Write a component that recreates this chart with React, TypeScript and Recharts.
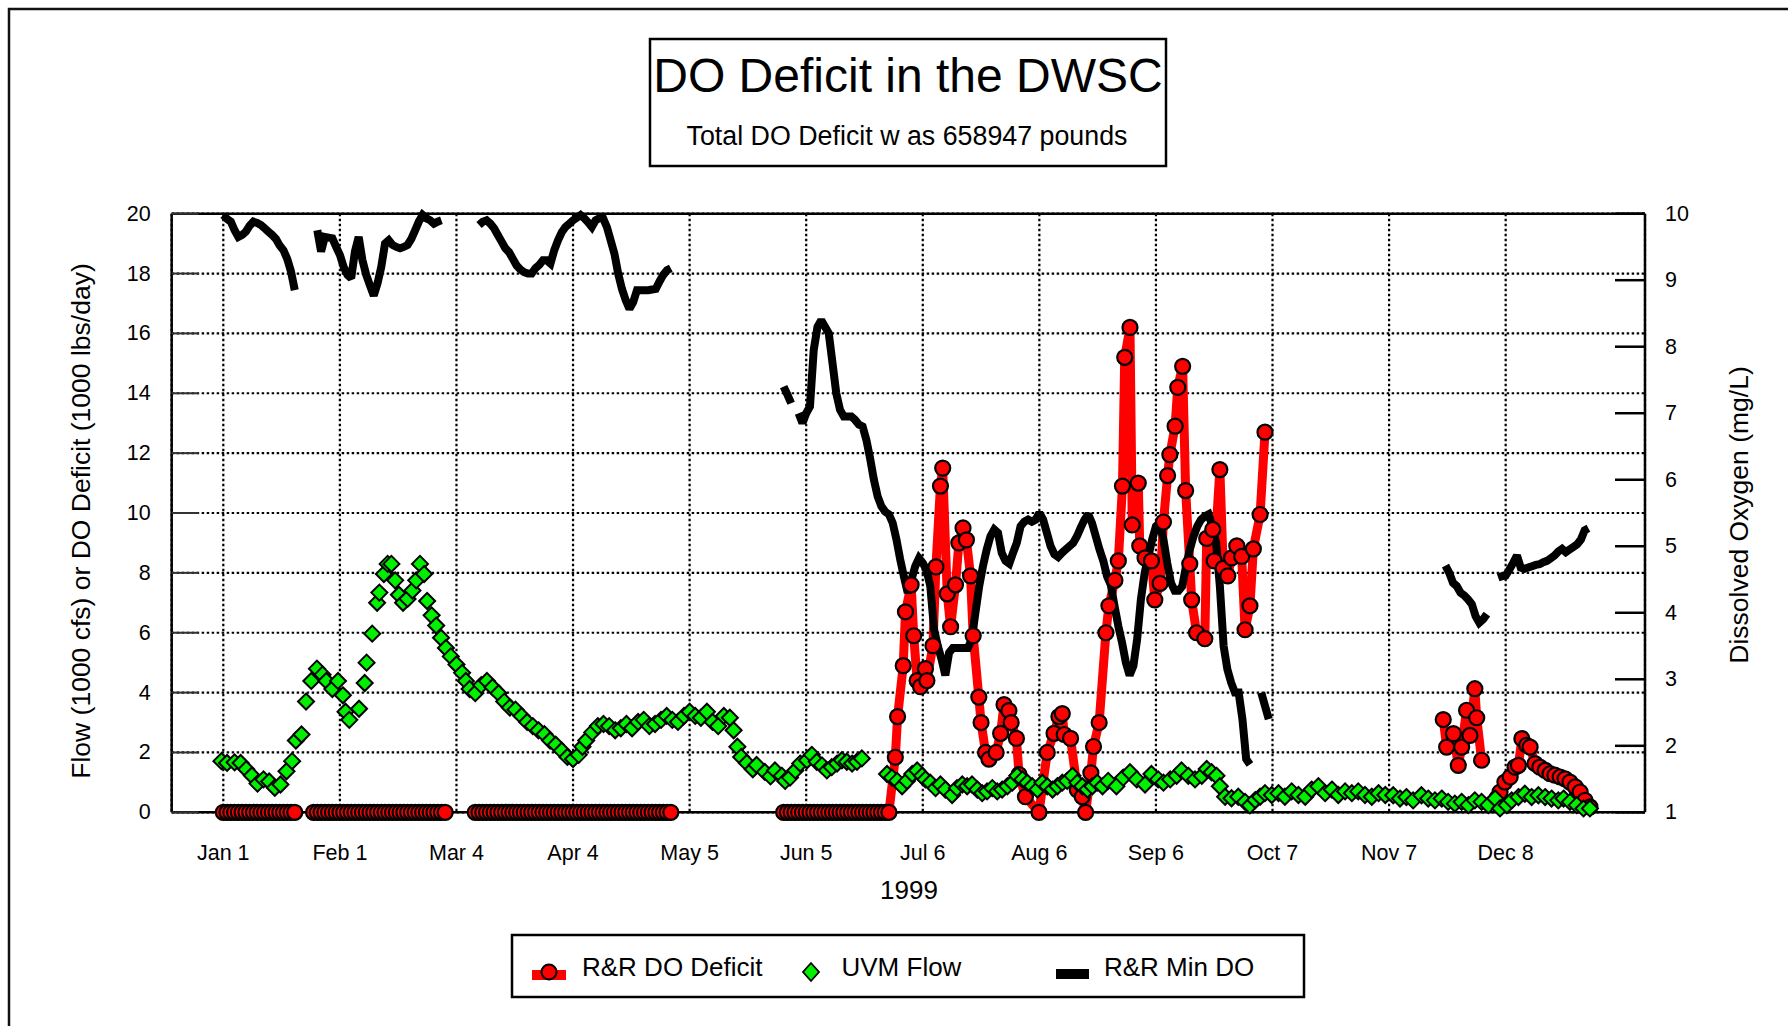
import React from 'react';
import { ComposedChart, Line, XAxis, YAxis, CartesianGrid, ReferenceLine } from 'recharts';

const W = 1788;
const H = 1026;
const FONT = "'Liberation Sans', Arial, sans-serif";

// x axis is the day of year 1999 (Jan 1 = 1)
const tickDays = [1, 32, 63, 94, 125, 156, 187, 218, 249, 280, 311, 342];
const tickLabels = ['Jan 1', 'Feb 1', 'Mar 4', 'Apr 4', 'May 5', 'Jun 5', 'Jul 6', 'Aug 6', 'Sep 6', 'Oct 7', 'Nov 7', 'Dec 8'];
const flowTicks = [0, 2, 4, 6, 8, 10, 12, 14, 16, 18, 20];
const doTicks = [1, 2, 3, 4, 5, 6, 7, 8, 9, 10];

// R&R Min DO (mg/L), daily runs: start day + values
const minDoJanStart = 1;
const minDoJan = [9.98, 9.92, 9.88, 9.75, 9.65, 9.68, 9.73, 9.82, 9.88, 9.86, 9.83, 9.78, 9.73, 9.68, 9.62, 9.52, 9.45, 9.32, 9.13, 8.85];
const minDoFebStart = 26;
const minDoFeb = [9.75, 9.43, 9.65, 9.64, 9.63, 9.5, 9.38, 9.2, 9.08, 9.03, 9.43, 9.65, 9.3, 9.08, 8.92, 8.77, 8.95, 9.2, 9.55, 9.6,
  9.53, 9.5, 9.48, 9.5, 9.53, 9.62, 9.75, 9.88, 9.98, 9.93, 9.9, 9.85, 9.88, 9.9];
const minDoMarStart = 69;
const minDoMar = [9.83, 9.88, 9.9, 9.85, 9.78, 9.68, 9.58, 9.48, 9.42, 9.32, 9.22, 9.16, 9.12, 9.1, 9.1, 9.18, 9.23, 9.3, 9.3, 9.25,
  9.45, 9.6, 9.72, 9.8, 9.85, 9.9, 9.94, 9.98, 9.93, 9.87, 9.8, 9.9, 9.93, 9.93, 9.8, 9.6, 9.4, 9.1, 8.87, 8.7,
  8.57, 8.67, 8.85, 8.85, 8.85, 8.85, 8.86, 8.87, 8.98, 9.08, 9.15, 9.18];
const minDoMayStart = 150;
const minDoMay = [7.4, 7.28, 7.15];
const minDoJunStart = 154;
const minDoJun = [7.0, 6.85, 7.0, 7.1, 7.95, 8.3, 8.4, 8.3, 8.2, 7.75, 7.3, 7.05, 6.95, 6.95, 6.95, 6.9, 6.83, 6.8, 6.6, 6.32,
  6.0, 5.75, 5.6, 5.52, 5.48, 5.35, 5.1, 4.8, 4.54, 4.3, 4.5, 4.7, 4.82, 4.75, 4.64, 4.4, 3.75, 3.5, 3.3, 3.06,
  3.4, 3.47, 3.47, 3.47, 3.47, 3.47, 3.6, 4.0, 4.4, 4.7, 4.95, 5.15, 5.25, 5.2, 4.9, 4.78, 4.74, 4.9, 5.05, 5.3,
  5.37, 5.4, 5.37, 5.4, 5.5, 5.4, 5.2, 5.0, 4.88, 4.84, 4.9, 4.95, 5.0, 5.05, 5.15, 5.28, 5.4, 5.48, 5.35, 5.15,
  4.95, 4.78, 4.55, 4.42, 4.1, 3.8, 3.55, 3.25, 3.06, 3.2, 3.6, 4.2, 4.6, 4.85, 5.1, 5.3, 5.35, 5.1, 4.75, 4.45,
  4.33, 4.33, 4.4, 4.7, 4.95, 5.15, 5.3, 5.4, 5.45, 5.48, 5.3, 5.05, 4.4, 3.5, 3.15, 2.95, 2.8, 2.8, 2.4, 1.8,
  1.72];
const minDoOctStart = 277;
const minDoOct = [2.8, 2.6, 2.4];
const minDoNovStart = 326;
const minDoNov = [4.71, 4.6, 4.45, 4.4, 4.3, 4.26, 4.2, 4.13, 3.95, 3.85, 3.9, 3.98];
const minDoDecStart = 340;
const minDoDec = [4.53, 4.55, 4.56, 4.65, 4.75, 4.86, 4.68, 4.66, 4.68, 4.7, 4.72, 4.73, 4.76, 4.78, 4.82, 4.86, 4.92, 4.96, 4.91, 4.95,
  4.99, 5.03, 5.1, 5.24, 5.27];

// R&R DO Deficit (1000 lbs/day)
const deficitJanStart = 1;
const deficitJan = [0, 0, 0, 0, 0, 0, 0, 0, 0, 0, 0, 0, 0, 0, 0, 0, 0, 0, 0, 0];
const deficitFebStart = 25;
const deficitFeb = [0, 0, 0, 0, 0, 0, 0, 0, 0, 0, 0, 0, 0, 0, 0, 0, 0, 0, 0, 0, 0, 0, 0, 0, 0, 0, 0, 0, 0, 0, 0, 0, 0, 0, 0, 0];
const deficitMarStart = 68;
const deficitMar = [0, 0, 0, 0, 0, 0, 0, 0, 0, 0, 0, 0, 0, 0, 0, 0, 0, 0, 0, 0, 0, 0, 0, 0, 0, 0, 0, 0, 0, 0,
  0, 0, 0, 0, 0, 0, 0, 0, 0, 0, 0, 0, 0, 0, 0, 0, 0, 0, 0, 0, 0, 0, 0];
const deficitJunStart = 150;
const deficitJun = [0, 0, 0, 0, 0, 0, 0, 0, 0, 0, 0, 0, 0, 0, 0, 0, 0, 0, 0, 0, 0, 0, 0, 0, 0, 0, 0, 0, 0];
const deficitSummerDays = [179.7, 180.3, 181.8, 182.4, 183.9, 184.6, 185.5, 186.4, 187.7, 188.1, 189.7, 190.5, 191.7, 192.3, 193.5,
  194.4, 195.7, 196.6, 197.7, 198.6, 199.7, 200.4, 201.9, 202.5, 203.7, 204.6, 206.5, 207.7, 208.6, 209.9, 210.5, 211.9, 212.6,
  214.3, 217.9, 220.1, 221.9, 223.2, 224.1, 224.6, 226.3, 228.1, 229.4, 230.3, 231.7, 232.4, 233.9, 235.7, 236.5, 238.1, 239.0,
  240.1, 240.7, 242.1, 242.7, 244.3, 244.7, 246.1, 247.8, 248.7, 250.1, 251.0, 252.1, 252.7, 254.1, 254.8, 256.1, 256.9, 258.0,
  258.5, 259.8, 262.0, 262.5, 264.1, 264.5, 266.0, 266.9, 268.1, 269.1, 270.5, 271.8, 272.7, 274.0, 274.9, 276.7, 278.0];
const deficitSummer = [1.84, 3.2, 4.9, 6.7, 7.6, 5.9, 4.4, 4.2, 4.8, 4.4, 5.57, 8.2, 10.9, 11.5, 7.3,
  6.2, 7.6, 9.0, 9.5, 9.1, 7.9, 5.9, 3.85, 3.0, 2.0, 1.78, 2.0, 2.64, 3.6, 3.4, 3.0, 2.47, 1.26,
  0.52, 0, 2.0, 2.64, 3.2, 3.3, 2.6, 2.47, 0.75, 0.52, 0, 1.32, 2.2, 3.0, 6.0, 6.9, 7.75, 8.4,
  10.9, 15.2, 16.2, 9.6, 11.0, 8.9, 8.5, 8.4, 7.1, 7.65, 9.7, 11.25, 11.95, 12.9, 14.2, 14.9, 10.75, 8.3,
  7.1, 6.0, 5.8, 9.15, 9.45, 8.4, 11.45, 8.15, 7.9, 8.5, 8.9, 8.55, 6.1, 6.9, 8.8, 9.95, 12.7];
const deficitNovDays = [325.4, 326.3, 328.1, 329.4, 330.3, 331.6, 332.5, 333.8, 334.3, 335.6];
const deficitNov = [3.1, 2.18, 2.63, 1.57, 2.18, 3.41, 2.57, 4.13, 3.16, 1.74];
const deficitDecDays = [339.6, 340.5, 341.8, 343.2, 344.5, 345.4, 346.3, 347.6, 348.5, 349.8, 351.1, 352.5, 353.8, 355.1, 356.5,
  357.8, 359.1, 360.5, 361.8, 363.1, 364.4];
const deficitDec = [0.46, 0.68, 1.01, 1.18, 1.51, 1.57, 2.46, 2.24, 2.18, 1.63, 1.51, 1.4, 1.29, 1.24, 1.18,
  1.12, 1.01, 0.85, 0.68, 0.4, 0.18];

// UVM Flow (1000 cfs)
const flowSpringDays = [0.5, 2, 4, 5.6, 7.1, 8.6, 10.1, 11.7, 13.2, 14.7, 16.2, 17.8, 19.3, 20.3, 21.8, 23, 24.4, 25.9, 27.4, 28.4,
  30, 31.5, 32.8, 33.5, 34.5, 37.1, 38.6, 39.1, 40.6, 41.9, 42.5, 43.7, 44.7, 45.7, 46.7, 47.7, 48.8, 50, 51.3, 52.3,
  53.3, 54.4, 55.2, 56.4, 57.6, 58.9, 60.2, 61.5, 63, 64.5, 65.5, 66.5, 68, 69.6, 71.1, 72.6, 74.2, 75.7, 77.2, 78.7,
  80.3, 81.8, 83.3, 84.8, 86.4, 87.9, 89.4, 91, 92.5, 94, 95.5, 96.5, 97.5, 99.1, 100.6, 102.1, 103.6, 105.2, 106.7, 108.2,
  109.7, 111.3, 112.8, 114.3, 115.8, 117.4, 118.9, 120.4, 121.9, 123.5, 125, 126.5, 128, 129.6, 131.1, 132.6, 134.1, 135.7,
  136.7, 137.7, 138.7, 140.2, 141.8, 142.8, 145, 146.5, 147.7, 149.5, 150.4, 151.7, 153.1, 154.4, 156.2, 157.5, 158.8, 160.2,
  161.5, 162.8, 164.2, 165.5, 166.8, 168.2, 169.5, 170.8];
const flowSpring = [1.71, 1.65, 1.67, 1.65, 1.44, 1.23, 0.96, 1.1, 1.03, 0.82, 0.93, 1.37, 1.71, 2.4, 2.6, 3.7, 4.39, 4.8, 4.6, 4.39,
  4.12, 4.39, 3.91, 3.36, 3.09, 3.46, 4.32, 5.0, 5.97, 7.0, 7.34, 7.96, 8.3, 8.3, 7.75, 7.27, 7.0, 7.13, 7.41, 7.75,
  8.3, 7.96, 7.06, 6.58, 6.24, 5.83, 5.49, 5.21, 4.94, 4.66, 4.39, 4.12, 3.98, 4.25, 4.39, 4.18, 3.98, 3.7, 3.5, 3.43,
  3.22, 3.02, 2.88, 2.74, 2.61, 2.4, 2.26, 2.06, 1.85, 1.78, 1.92, 2.19, 2.4, 2.67, 2.88, 2.95, 2.88, 2.74, 2.81, 2.95,
  2.81, 3.02, 3.09, 2.88, 2.95, 3.09, 3.22, 3.09, 3.02, 3.22, 3.36, 3.22, 3.16, 3.36, 3.02, 2.88, 3.22, 3.16,
  2.74, 2.19, 1.85, 1.65, 1.44, 1.58, 1.35, 1.2, 1.4, 1.22, 1.05, 1.16, 1.4, 1.63, 1.74, 1.92, 1.69, 1.57,
  1.4, 1.51, 1.63, 1.74, 1.69, 1.63, 1.69, 1.8];
const flowFallDays = [177.5, 178.8, 180.2, 181.5, 182.8, 184.2, 185.5, 186.8, 187.7, 189, 190.4, 191.7, 193, 194.8, 196.1, 197.5,
  198.8, 200.1, 201.5, 202.8, 204.1, 205.5, 206.8, 208.1, 209.5, 210.8, 212.1, 213.5, 214.8, 216.1, 217.5, 218.8, 220.1, 221.5,
  222.8, 224.1, 225.4, 226.8, 228.1, 229.4, 230.8, 232.1, 233.4, 234.8, 236.3, 238.5, 240.3, 242.1, 243.9, 246.1, 247.8, 249.6,
  251, 252.8, 254.5, 255.8, 257.6, 259.4, 261.2, 262.5, 263.8, 265.1, 266, 267.4, 269.1, 270.9, 272.7, 274, 275.4, 276.7,
  278, 279.8, 281.6, 283.3, 285.1, 286.9, 288.7, 290.4, 292.2, 294, 295.8, 297.5, 299.3, 301.1, 302.8, 304.6, 306.4, 308.2,
  310, 312.1, 313.9, 315.6, 317.4, 319.6, 321.4, 323.2, 325, 326.7, 328.5, 330.3, 332.1, 333.8, 335.6, 337.4, 339.2, 340.5,
  342.3, 343.6, 345.4, 347.1, 348.9, 350.7, 352.5, 354.2, 356, 357.4, 359.1, 360.9, 362.7, 364.4];
const flowFall = [1.28, 1.16, 1.05, 0.87, 1.05, 1.28, 1.4, 1.22, 1.1, 0.99, 0.81, 0.93, 0.76, 0.58, 0.81, 0.93,
  0.87, 0.93, 0.76, 0.64, 0.7, 0.81, 0.7, 0.76, 0.87, 0.99, 1.22, 1.1, 0.99, 0.87, 0.76, 0.99, 0.87, 0.76,
  0.87, 0.99, 1.05, 1.22, 0.99, 0.87, 0.76, 0.87, 0.99, 0.87, 1.05, 0.87, 1.16, 1.34, 1.1, 0.93, 1.28, 1.1,
  0.99, 1.1, 1.22, 1.4, 1.22, 1.1, 1.22, 1.45, 1.34, 1.22, 0.87, 0.52, 0.47, 0.52, 0.35, 0.23, 0.41, 0.52,
  0.64, 0.58, 0.64, 0.52, 0.7, 0.58, 0.52, 0.76, 0.87, 0.64, 0.76, 0.58, 0.7, 0.64, 0.7, 0.58, 0.52, 0.64,
  0.58, 0.57, 0.46, 0.51, 0.4, 0.57, 0.46, 0.4, 0.46, 0.35, 0.29, 0.35, 0.24, 0.4, 0.35, 0.24, 0.46, 0.13,
  0.24, 0.4, 0.51, 0.62, 0.51, 0.57, 0.51, 0.46, 0.4, 0.46, 0.35, 0.24, 0.13, 0.13];

type Row = { day: number; v: number | null };

const daily = (start: number, values: number[]): Row[] => values.map((v, i) => ({ day: start + i, v }));
const paired = (days: number[], values: number[]): Row[] => days.map((d, i) => ({ day: d, v: values[i] }));
// put a null row between runs so the line breaks there
const joinRuns = (runs: Row[][]): Row[] => {
  const out: Row[] = [];
  runs.forEach((r, i) => {
    if (i > 0) out.push({ day: (out[out.length - 1].day + r[0].day) / 2, v: null });
    out.push(...r);
  });
  return out;
};

const minDoData = joinRuns([
  daily(minDoJanStart, minDoJan),
  daily(minDoFebStart, minDoFeb),
  daily(minDoMarStart, minDoMar),
  daily(minDoMayStart, minDoMay),
  daily(minDoJunStart, minDoJun),
  daily(minDoOctStart, minDoOct),
  daily(minDoNovStart, minDoNov),
  daily(minDoDecStart, minDoDec),
]);

const deficitData = joinRuns([
  daily(deficitJanStart, deficitJan),
  daily(deficitFebStart, deficitFeb),
  daily(deficitMarStart, deficitMar),
  [...daily(deficitJunStart, deficitJun), ...paired(deficitSummerDays, deficitSummer)],
  paired(deficitNovDays, deficitNov),
  paired(deficitDecDays, deficitDec),
]);

const flowData = [...paired(flowSpringDays, flowSpring), ...paired(flowFallDays, flowFall)];

const labelFor = (d: number) => tickLabels[tickDays.indexOf(d)] ?? '';

const XTick = (p: any) => (
  <text x={p.x} y={p.y + 41} textAnchor="middle" dominantBaseline="central" fontSize={21.5} fontFamily={FONT} fill="#000">
    {labelFor(p.payload.value)}
  </text>
);

const LeftTick = (p: any) => (
  <g>
    <line x1={p.x} x2={p.x + 27} y1={p.y} y2={p.y} stroke="#333" strokeWidth={2} />
    <text x={p.x - 21} y={p.y} textAnchor="end" dominantBaseline="central" fontSize={21.5} fontFamily={FONT} fill="#000">
      {p.payload.value}
    </text>
  </g>
);

const RightTick = (p: any) => (
  <g>
    <line x1={p.x - 30} x2={p.x} y1={p.y} y2={p.y} stroke="#000" strokeWidth={2.5} />
    <text x={p.x + 20} y={p.y} textAnchor="start" dominantBaseline="central" fontSize={21.5} fontFamily={FONT} fill="#000">
      {p.payload.value}
    </text>
  </g>
);

const RedDot = (p: any) => {
  if (p.cx == null || p.cy == null || Number.isNaN(p.cy) || p.value == null) return <g key={`r${p.index}`} />;
  return <circle key={`r${p.index}`} cx={p.cx} cy={p.cy} r={7.5} fill="#ff0000" stroke="#000" strokeWidth={2.2} />;
};

const GreenDot = (p: any) => {
  if (p.cx == null || p.cy == null || Number.isNaN(p.cy)) return <g key={`g${p.index}`} />;
  const s = 8;
  return (
    <path
      key={`g${p.index}`}
      d={`M${p.cx},${p.cy - s}L${p.cx + s},${p.cy}L${p.cx},${p.cy + s}L${p.cx - s},${p.cy}Z`}
      fill="#00f000"
      stroke="#000"
      strokeWidth={2}
    />
  );
};

export default function App() {
  return (
    <div style={{ position: 'absolute', left: 0, top: 0, width: W, height: H, background: '#fff', overflow: 'hidden' }}>
      <ComposedChart
        width={W}
        height={H}
        margin={{ top: 213.67, right: 83, bottom: 153.67, left: 111.67 }}
      >
        <CartesianGrid stroke="#000" strokeWidth={2.2} strokeDasharray="2.5 2.5" />
        <XAxis
          type="number"
          dataKey="day"
          domain={[-12.73, 379.05]}
          ticks={tickDays}
          allowDataOverflow
          height={60}
          tickSize={0}
          tickMargin={0}
          tick={<XTick />}
          axisLine={{ stroke: '#000', strokeWidth: 2.5 }}
        />
        <YAxis
          type="number"
          domain={[0, 20]}
          ticks={flowTicks}
          width={60}
          tickSize={0}
          tickMargin={0}
          tick={<LeftTick />}
          axisLine={{ stroke: '#000', strokeWidth: 2.5 }}
        />
        <YAxis
          yAxisId="right"
          orientation="right"
          type="number"
          domain={[1, 10]}
          ticks={doTicks}
          width={60}
          tickSize={0}
          tickMargin={0}
          tick={<RightTick />}
          axisLine={{ stroke: '#000', strokeWidth: 2.5 }}
        />
        <ReferenceLine y={20} stroke="#000" strokeWidth={2.5} />
        <Line
          data={deficitData}
          dataKey="v"
          type="linear"
          stroke="#ff0000"
          strokeWidth={9}
          strokeLinejoin="miter"
          strokeMiterlimit={2}
          dot={false}
          activeDot={false}
          connectNulls={false}
          isAnimationActive={false}
        />
        <Line
          data={minDoData}
          dataKey="v"
          yAxisId="right"
          type="linear"
          stroke="#000"
          strokeWidth={8}
          strokeLinejoin="miter"
          strokeMiterlimit={2}
          dot={false}
          activeDot={false}
          connectNulls={false}
          isAnimationActive={false}
        />
        <Line
          data={deficitData}
          dataKey="v"
          type="linear"
          stroke="none"
          dot={RedDot}
          activeDot={false}
          isAnimationActive={false}
        />
        <Line
          data={flowData}
          dataKey="v"
          type="linear"
          stroke="none"
          dot={GreenDot}
          activeDot={false}
          isAnimationActive={false}
        />
      </ComposedChart>

      <svg width={W} height={H} style={{ position: 'absolute', left: 0, top: 0, pointerEvents: 'none' }} fontFamily={FONT}>
        <rect x={9} y={9} width={1820} height={1060} fill="none" stroke="#111" strokeWidth={2.5} />

        <rect x={650} y={39} width={516} height={127} fill="#fff" stroke="#000" strokeWidth={2.5} />
        <text x={908} y={92} textAnchor="middle" fontSize={48} fill="#000">DO Deficit in the DWSC</text>
        <text x={907} y={145} textAnchor="middle" fontSize={26.8} fill="#000">Total DO Deficit w as 658947 pounds</text>

        <text x={81} y={521} transform="rotate(-90 81 521)" textAnchor="middle" dominantBaseline="central" fontSize={26.5} fill="#000">
          Flow  (1000 cfs) or DO Deficit (1000 lbs/day)
        </text>
        <text x={1739} y={515} transform="rotate(-90 1739 515)" textAnchor="middle" dominantBaseline="central" fontSize={26.5} fill="#000">
          Dissolved Oxygen (mg/L)
        </text>
        <text x={909} y={890} textAnchor="middle" dominantBaseline="central" fontSize={26} fill="#000">1999</text>

        <rect x={512} y={935} width={792} height={62} fill="#fff" stroke="#000" strokeWidth={2.5} />
        <rect x={532} y={970} width={34} height={10} fill="#ff0000" />
        <circle cx={549} cy={972} r={7.5} fill="#ff0000" stroke="#000" strokeWidth={2} />
        <text x={582} y={976} fontSize={26} fill="#000">R&amp;R DO Deficit</text>
        <path d="M811,963L819,972L811,981L803,972Z" fill="#00f000" stroke="#000" strokeWidth={1.8} />
        <text x={841.5} y={976} fontSize={26} fill="#000">UVM Flow</text>
        <rect x={1056} y={969} width={33} height={10} fill="#000" />
        <text x={1104} y={976} fontSize={26} fill="#000">R&amp;R Min DO</text>
      </svg>
    </div>
  );
}
